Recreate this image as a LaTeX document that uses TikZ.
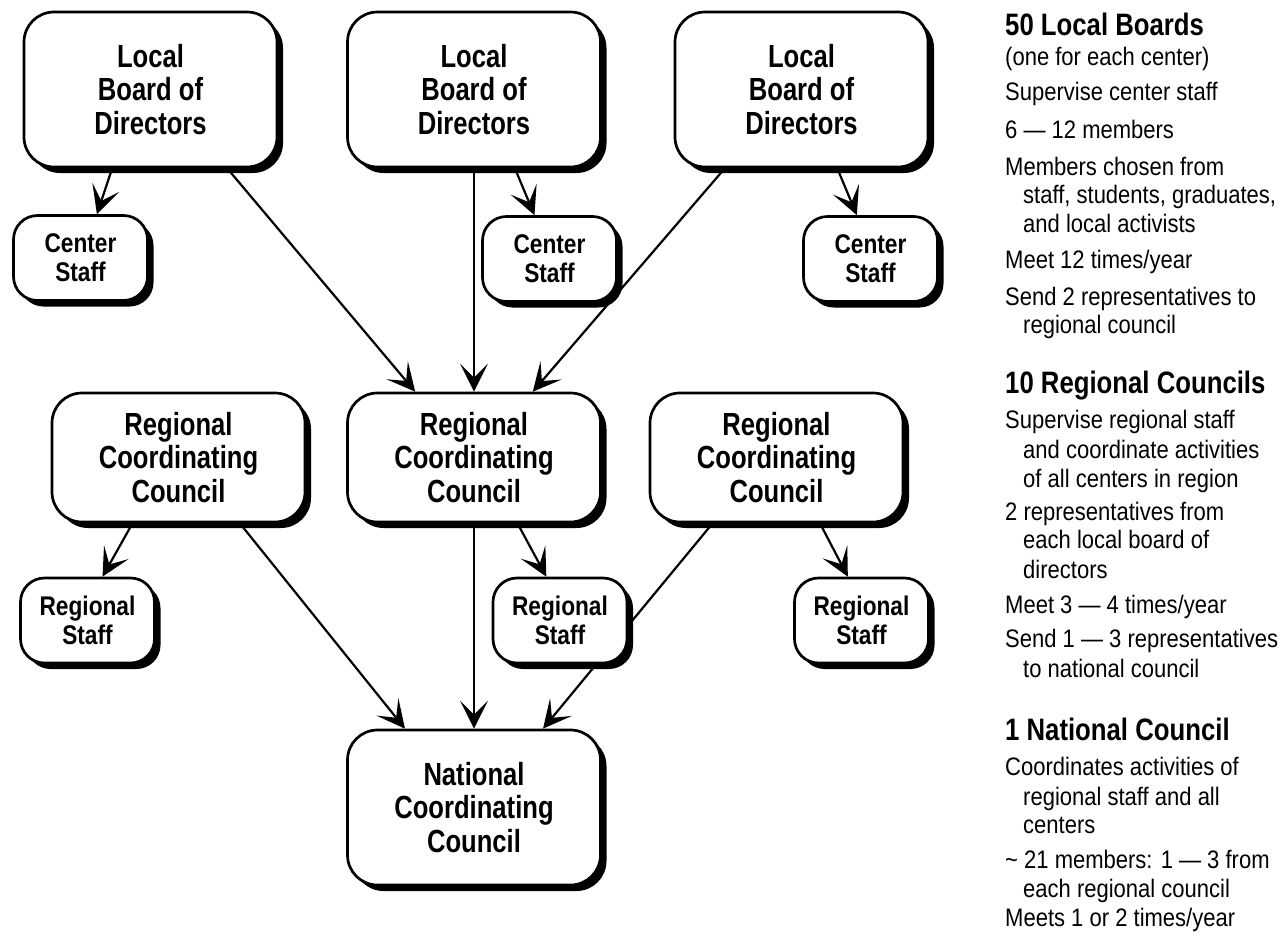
\documentclass[tikz,border=0pt]{standalone}
\usepackage{fontspec}
\setmainfont[FakeStretch=0.87]{Liberation Sans}
\newfontfamily\boxfont[FakeStretch=0.8]{Liberation Sans}
\newfontfamily\smallboxfont[FakeStretch=0.84]{Liberation Sans}
\newfontfamily\headfont[FakeStretch=0.83]{Liberation Sans}
\usetikzlibrary{arrows.meta,shadows,calc,backgrounds}
\begin{document}
\begin{tikzpicture}[x=1pt,y=-1pt,
  base/.style={draw, line width=2.7pt, fill=white, align=center, inner sep=0pt,
    drop shadow={shadow xshift=6pt, shadow yshift=-6pt, fill=black, opacity=1}},
  bigbox/.style={base, rounded corners=30pt, minimum width=253pt,
    font=\boxfont\bfseries\fontsize{32}{33.5}\selectfont},
  smallbox/.style={base, rounded corners=24pt, minimum width=134pt, minimum height=85pt,
    font=\smallboxfont\bfseries\fontsize{27}{29}\selectfont},
  conn/.style={line width=2.2pt, -{Stealth[length=28pt,width=28pt,inset=14pt]}},
  hd/.style={anchor=base west, inner sep=0pt, font=\headfont\bfseries\fontsize{31}{32}\selectfont},
  bd/.style={anchor=base west, inner sep=0pt, font=\fontsize{25.3}{28}\selectfont}]
\useasboundingbox (0,0) rectangle (1288,935);

% boxes
\node[bigbox, minimum height=155pt] (L1) at (150.5,89.5) {Local\\Board of\\Directors};
\node[bigbox, minimum height=155pt] (L2) at (474,89.5) {Local\\Board of\\Directors};
\node[bigbox, minimum height=155pt] (L3) at (801.5,89.5) {Local\\Board of\\Directors};
\node[smallbox] (C1) at (80.5,258) {Center\\Staff};
\node[smallbox] (C2) at (549.5,259) {Center\\Staff};
\node[smallbox] (C3) at (870.5,259) {Center\\Staff};
\node[bigbox, minimum height=129pt] (R1) at (178.5,457.5) {Regional\\Coordinating\\Council};
\node[bigbox, minimum height=129pt] (R2) at (474,457.5) {Regional\\Coordinating\\Council};
\node[bigbox, minimum height=129pt] (R3) at (776.5,457.5) {Regional\\Coordinating\\Council};
\node[smallbox] (S1) at (87.5,620.5) {Regional\\Staff};
\node[smallbox] (S2) at (560,620.5) {Regional\\Staff};
\node[smallbox] (S3) at (861.5,620.5) {Regional\\Staff};
\node[bigbox, minimum height=155pt] (N) at (474,807.5) {National\\Coordinating\\Council};

% connectors
\begin{scope}[on background layer]
\draw[conn] ($(L1.south west)!0.35!(L1.south east)$) -- ($(C1.north west)!0.62!(C1.north east)$);
\draw[conn] ($(L1.south west)!0.80!(L1.south east)$) -- ($(R2.north west)!0.27!(R2.north east)$);
\draw[conn] (L2.south) -- (R2.north);
\draw[conn] ($(L2.south west)!0.66!(L2.south east)$) -- ($(C2.north west)!0.39!(C2.north east)$);
\draw[conn] ($(L3.south west)!0.20!(L3.south east)$) -- ($(R2.north west)!0.73!(R2.north east)$);
\draw[conn] ($(L3.south west)!0.64!(L3.south east)$) -- ($(C3.north west)!0.40!(C3.north east)$);
\draw[conn] ($(R1.south west)!0.32!(R1.south east)$) -- ($(S1.north west)!0.61!(S1.north east)$);
\draw[conn] ($(R1.south west)!0.74!(R1.south east)$) -- ($(N.north west)!0.23!(N.north east)$);
\draw[conn] (R2.south) -- (N.north);
\draw[conn] ($(R2.south west)!0.67!(R2.south east)$) -- ($(S2.north west)!0.40!(S2.north east)$);
\draw[conn] ($(R3.south west)!0.25!(R3.south east)$) -- ($(N.north west)!0.77!(N.north east)$);
\draw[conn] ($(R3.south west)!0.67!(R3.south east)$) -- ($(S3.north west)!0.40!(S3.north east)$);
\end{scope}

% side text
\node[hd] (t1) at (1005,35) {50 Local Boards};
\node[bd] (t2) at (1005,65) {(one for each center)};
\node[bd] (t3) at (1005,100) {Supervise center staff};
\node[bd] (t4) at (1005,138) {6 — 12 members};
\node[bd] (t5) at (1005,175) {Members chosen from};
\node[bd] (t6) at (1023,203) {staff, students, graduates,};
\node[bd] (t7) at (1023,232) {and local activists};
\node[bd] (t8) at (1005,268) {Meet 12 times/year};
\node[bd] (t9) at (1005,305) {Send 2 representatives to};
\node[bd] (t10) at (1023,333) {regional council};
\node[hd] (t11) at (1005,393) {10 Regional Councils};
\node[bd] (t12) at (1005,428) {Supervise regional staff};
\node[bd] (t13) at (1023,458) {and coordinate activities};
\node[bd] (t14) at (1023,487) {of all centers in region};
\node[bd] (t15) at (1005,520) {2 representatives from};
\node[bd] (t16) at (1023,548) {each local board of};
\node[bd] (t17) at (1023,578) {directors};
\node[bd] (t18) at (1005,613) {Meet 3 — 4 times/year};
\node[bd] (t19) at (1005,647) {Send 1 — 3 representatives};
\node[bd] (t20) at (1023,677) {to national council};
\node[hd] (t21) at (1005,740) {1 National Council};
\node[bd] (t22) at (1005,775) {Coordinates activities of};
\node[bd] (t23) at (1023,805) {regional staff and all};
\node[bd] (t24) at (1023,833) {centers};
\node[bd] (t25) at (1005,868) {\textasciitilde\ 21 members: 1 — 3 from};
\node[bd] (t26) at (1023,897) {each regional council};
\node[bd] (t27) at (1005,926) {Meets 1 or 2 times/year};
\end{tikzpicture}
\end{document}
